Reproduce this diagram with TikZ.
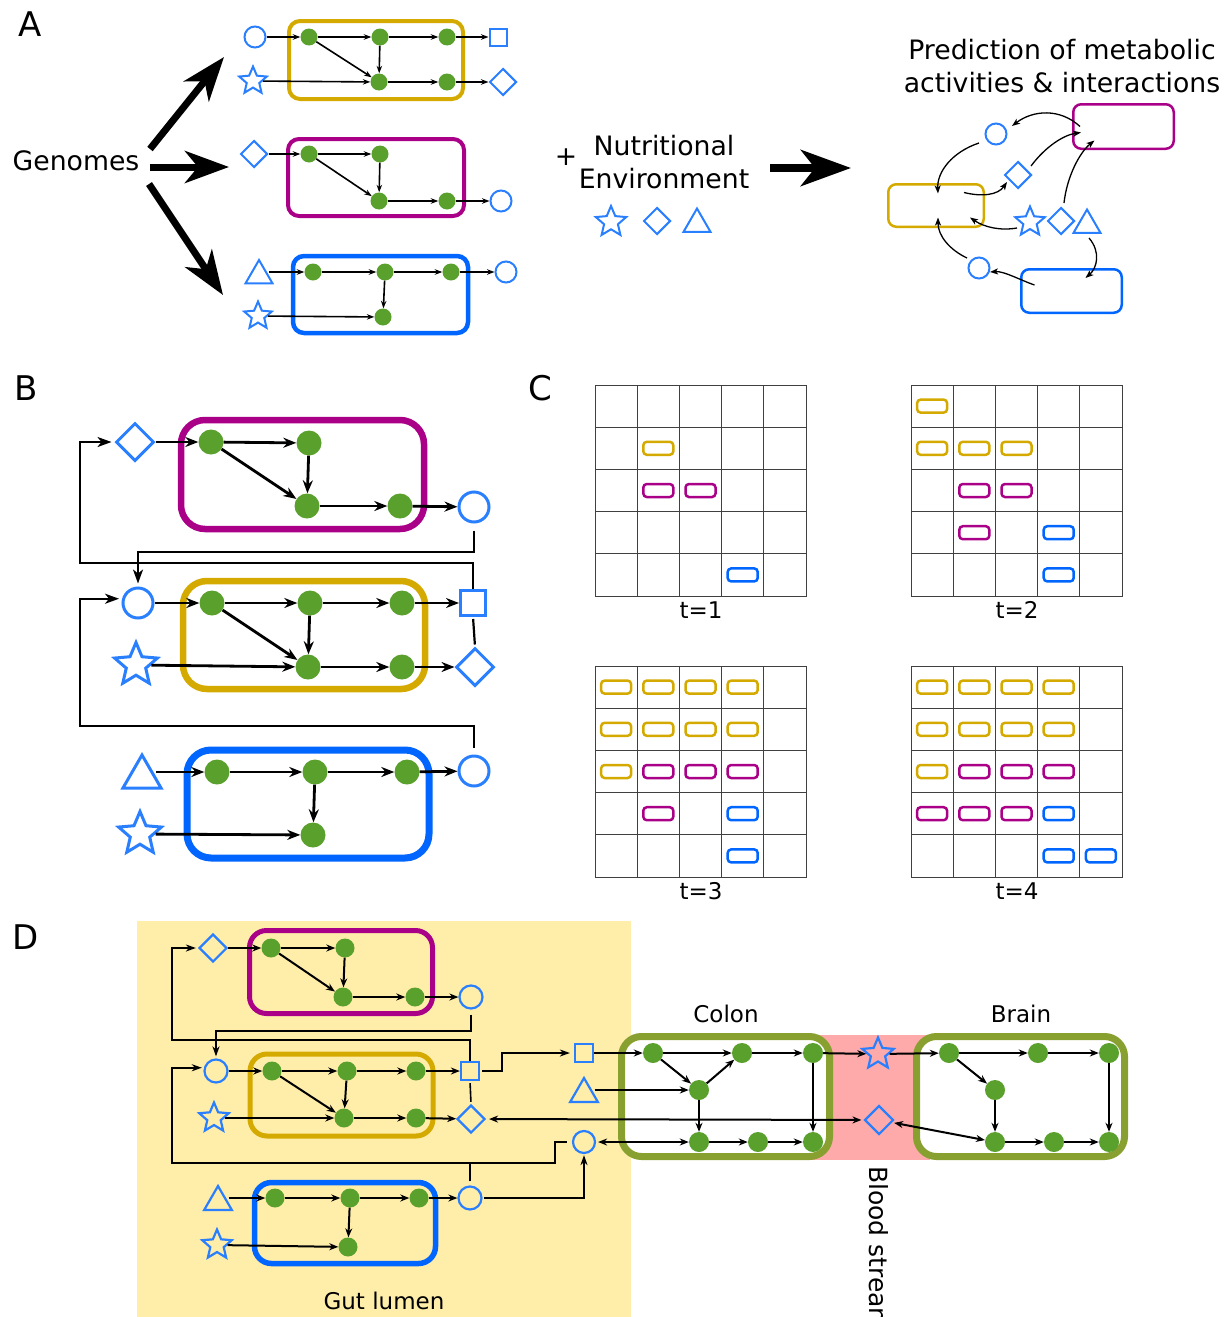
\documentclass[tikz,border=0pt]{standalone}
\usepackage{fontspec}
\setmainfont{DejaVu Sans}
\usetikzlibrary{arrows.meta,shapes.geometric}
\definecolor{gr}{RGB}{90,160,44}
\definecolor{shp}{RGB}{42,127,255}
\definecolor{mag}{RGB}{170,0,136}
\definecolor{yel}{RGB}{212,170,0}
\definecolor{blu}{RGB}{0,102,255}
\definecolor{oli}{RGB}{136,160,48}
\definecolor{pinkbg}{RGB}{255,170,170}
\definecolor{yelbg}{RGB}{255,238,170}
\def\shlw{2pt}
\newcommand\cellbox[5]{\draw[#5,cellb] ({#1+(#4+0.5)*42.2-15},{#2+(#3+0.5)*42.2-6.5}) rectangle ++(30,13);}
\begin{document}
\begin{tikzpicture}[x=1pt,y=-1pt,
  gn/.style={circle,fill=gr,inner sep=0pt,minimum size=#1},
  shc/.style={circle,draw=shp,line width=\shlw,inner sep=0pt,minimum size=#1},
  shs/.style={rectangle,draw=shp,line width=\shlw,inner sep=0pt,minimum size=#1},
  shd/.style={diamond,draw=shp,line width=\shlw,inner sep=0pt,minimum size=#1},
  sht/.style={regular polygon,regular polygon sides=3,draw=shp,line width=\shlw,inner sep=0pt,minimum size=#1},
  shst/.style={star,star points=5,star point ratio=2.2,draw=shp,line width=\shlw,inner sep=0pt,minimum size=#1},
  arA/.style={line width=1.6pt,-{Stealth[length=7.5pt,width=5.5pt]}},
  arB/.style={line width=2.8pt,-{Stealth[length=13pt,width=10pt]}},
  arD/.style={line width=2pt,-{Stealth[length=9pt,width=7pt]}},
  arDD/.style={line width=2pt,{Stealth[length=9pt,width=7pt]}-{Stealth[length=9pt,width=7pt]}},
  fbB/.style={line width=2.2pt},
  fbBa/.style={fbB,-{Stealth[length=14pt,width=10pt,inset=4pt]}},
  fbD/.style={line width=1.6pt},
  fbDa/.style={fbD,-{Stealth[length=10pt,width=7pt,inset=3pt]}},
  curv/.style={line width=1.3pt,-{Stealth[length=8pt,width=6pt,inset=2pt]}},
  big/.style={line width=7pt,-{Stealth[length=44pt,width=32pt,inset=13pt]}},
  txt/.style={inner sep=0pt,font=\fontsize{26.7}{33}\selectfont},
  stxt/.style={inner sep=0pt,font=\fontsize{23}{28}\selectfont},
  btxt/.style={inner sep=0pt,font=\fontsize{25}{30}\selectfont},
  ptxt/.style={inner sep=0pt,font=\fontsize{34}{40}\selectfont},
  gridl/.style={line width=1pt,draw=black!75},
  cellb/.style={line width=2.5pt,rounded corners=3.5pt},
  sbox/.style={line width=2.5pt,rounded corners=8pt,inner sep=0pt},
]
\useasboundingbox (0,0) rectangle (1231,1317);

% ================= Panel A =================
\node[ptxt] (labA) at (30,24) {A};
\node[txt] (genomes) at (76,161) {Genomes};
\coordinate (gu0) at (150,149); \coordinate (gu1) at (224,57);
\coordinate (gm0) at (150,167); \coordinate (gm1) at (229,167);
\coordinate (gd0) at (149,184); \coordinate (gd1) at (223,295);
\draw[big] (gu0) -- (gu1);
\draw[big] (gm0) -- (gm1);
\draw[big] (gd0) -- (gd1);

\def\shlw{2pt}
% yellow genome
\draw[yel,line width=4pt,rounded corners=11pt] (289,21) rectangle (463,99);
\node[gn=17pt] (ay1) at (309,37) {};
\node[gn=17pt] (ay2) at (380,37) {};
\node[gn=17pt] (ay3) at (447,37) {};
\node[gn=17pt] (ay4) at (379,82) {};
\node[gn=17pt] (ay5) at (447,82) {};
\node[shc=21pt] (ayi1) at (255,37) {};
\node[shst=29pt] (ayi2) at (253,81) {};
\node[shs=17pt] (ayo1) at (498,37) {};
\node[shd=27pt] (ayo2) at (503,82) {};
\draw[arA] (ayi1) -- (ay1);
\draw[arA] (ay1) -- (ay2);
\draw[arA] (ay2) -- (ay3);
\draw[arA] (ay3) -- (ayo1);
\draw[arA] (ay1) -- (ay4);
\draw[arA] (ay2) -- (ay4);
\draw[arA] (ayi2) -- (ay4);
\draw[arA] (ay4) -- (ay5);
\draw[arA] (ay5) -- (ayo2);
% magenta genome
\draw[mag,line width=4pt,rounded corners=11pt] (288,139) rectangle (464,216);
\node[gn=17pt] (am1) at (309,154) {};
\node[gn=17pt] (am2) at (380,154) {};
\node[gn=17pt] (am3) at (379,201) {};
\node[gn=17pt] (am4) at (447,201) {};
\node[shd=27pt] (ami) at (254,154) {};
\node[shc=21pt] (amo) at (501,201) {};
\draw[arA] (ami) -- (am1);
\draw[arA] (am1) -- (am2);
\draw[arA] (am1) -- (am3);
\draw[arA] (am2) -- (am3);
\draw[arA] (am3) -- (am4);
\draw[arA] (am4) -- (amo);
% blue genome
\draw[blu,line width=4.5pt,rounded corners=11pt] (293,256) rectangle (468,333);
\node[gn=17pt] (ab1) at (313,272) {};
\node[gn=17pt] (ab2) at (385,272) {};
\node[gn=17pt] (ab3) at (451,272) {};
\node[gn=17pt] (ab4) at (383,317) {};
\node[sht=31pt] (abi1) at (259,275.5) {};
\node[shst=29pt] (abi2) at (258,316) {};
\node[shc=21pt] (abo) at (506,272) {};
\draw[arA] (abi1.east |- ab1) -- (ab1);
\draw[arA] (ab1) -- (ab2);
\draw[arA] (ab2) -- (ab3);
\draw[arA] (ab3) -- (abo);
\draw[arA] (ab2) -- (ab4);
\draw[arA] (abi2) -- (ab4);

% nutritional environment
\node[txt] (plus) at (566,157) {+};
\node[txt,align=center] (nutri) at (664,162.5) {Nutritional\\Environment};
\node[shst=32pt] (est) at (611,222) {};
\node[shd=27pt] (edi) at (657,221) {};
\node[sht=31pt] (etr) at (697,224) {};
\coordinate (bg0) at (770,168); \coordinate (bg1) at (851,168);
\draw[line width=8pt,-{Stealth[length=50pt,width=36pt,inset=14pt]}] (bg0) -- (bg1);

% prediction
\node[txt,align=center] (pred) at (1062,66) {Prediction of metabolic\\activities \& interactions};
\node[sbox,draw=mag,minimum width=100.5pt,minimum height=44.5pt] (rm) at (1123.5,126.5) {};
\node[sbox,draw=yel,minimum width=95.5pt,minimum height=42.5pt] (ry) at (936,205.5) {};
\node[sbox,draw=blu,minimum width=100.5pt,minimum height=43.5pt] (rb) at (1071.5,291) {};
\node[shc=21pt] (rc1) at (996,134) {};
\node[shd=27pt] (rd1) at (1018,175) {};
\node[shst=31pt] (rst) at (1030,222) {};
\node[shd=27pt] (rd2) at (1061,221) {};
\node[sht=31pt] (rtr) at (1087,225) {};
\node[shc=21pt] (rc2) at (979,268) {};
\draw[curv] ([shift={(8,0)}]rm.west) .. controls (1060,108) and (1033,110) .. ([shift={(16,-8)}]rc1.center);
\draw[curv] ([shift={(-17,9)}]rc1.center) .. controls (952,152) and (937,172) .. ([shift={(2,-12)}]ry.center);
\draw[curv] ([shift={(28,-13)}]ry.center) .. controls (982,197) and (998,195) .. ([shift={(-11,7)}]rd1.center);
\draw[curv] ([shift={(13,-9)}]rd1.center) .. controls (1046,146) and (1064,135) .. ([shift={(9,6)}]rm.west);
\draw[curv] ([shift={(3,-18)}]rd2.center) .. controls (1067,176) and (1080,152) .. ([shift={(-29,14)}]rm.center);
\draw[curv] ([shift={(-13,6)}]rst.center) .. controls (1000,231) and (984,227) .. ([shift={(34,12)}]ry.center);
\draw[curv] ([shift={(-12,-10)}]rc2.center) .. controls (950,250) and (938,236) .. ([shift={(2,12)}]ry.center);
\draw[curv] ([shift={(-37,-6)}]rb.center) .. controls (1020,280) and (1004,271) .. ([shift={(11,4)}]rc2.center);
\draw[curv] ([shift={(2,13)}]rtr.center) .. controls (1101,252) and (1097,268) .. ([shift={(14,-13)}]rb.center);

% ================= Panel B =================
\node[ptxt] (labB) at (26,388) {B};
\def\shlw{3pt}
\draw[mag,line width=6.5pt,rounded corners=24pt] (181,420) rectangle (424,529);
\node[gn=25pt] (bm1) at (211,442) {};
\node[gn=25pt] (bm2) at (309,443) {};
\node[gn=25pt] (bm3) at (307,506) {};
\node[gn=25pt] (bm4) at (400,506) {};
\node[shd=38pt] (bmi) at (135,442) {};
\node[shc=30pt] (bmo) at (474,507) {};
\draw[arB] (bmi) -- (bm1);
\draw[arB] (bm1) -- (bm2);
\draw[arB] (bm1) -- (bm3);
\draw[arB] (bm2) -- (bm3);
\draw[arB] (bm3) -- (bm4);
\draw[arB] (bm4) -- (bmo);

\draw[yel,line width=6.5pt,rounded corners=24pt] (183,581) rectangle (425,689);
\node[gn=25pt] (by1) at (212,603) {};
\node[gn=25pt] (by2) at (310,603) {};
\node[gn=25pt] (by3) at (402,603) {};
\node[gn=25pt] (by4) at (308,667) {};
\node[gn=25pt] (by5) at (402,667) {};
\node[shc=30pt] (byi1) at (138,603) {};
\node[shst=45pt] (byi2) at (136,665) {};
\node[shs=25pt] (byo1) at (473,603) {};
\node[shd=38pt] (byo2) at (475,667) {};
\draw[arB] (byi1) -- (by1);
\draw[arB] (by1) -- (by2);
\draw[arB] (by2) -- (by3);
\draw[arB] (by3) -- (byo1);
\draw[arB] (by1) -- (by4);
\draw[arB] (by2) -- (by4);
\draw[arB] (byi2) -- (by4);
\draw[arB] (by4) -- (by5);
\draw[arB] (by5) -- (byo2);

\draw[blu,line width=7pt,rounded corners=24pt] (187,750) rectangle (429,858);
\node[gn=25pt] (bb1) at (217,772) {};
\node[gn=25pt] (bb2) at (315,772) {};
\node[gn=25pt] (bb3) at (407,772) {};
\node[gn=25pt] (bb4) at (313,835) {};
\node[sht=44pt] (bbi1) at (142,777) {};
\node[shst=45pt] (bbi2) at (140,834) {};
\node[shc=30pt] (bbo) at (474,771) {};
\draw[arB] (bbi1.east |- bb1) -- (bb1);
\draw[arB] (bb1) -- (bb2);
\draw[arB] (bb2) -- (bb3);
\draw[arB] (bb3) -- (bbo);
\draw[arB] (bb2) -- (bb4);
\draw[arB] (bbi2) -- (bb4);

\draw[fbBa,shorten <=7pt,shorten >=3pt] (bmo.south) |- (138,552) -- (byi1.north);
\draw[fbB,shorten <=2pt,shorten >=2pt] (byo2.north) -- (byo1.south);
\draw[fbBa,shorten >=3pt] (byo1.north) |- (80,563) |- (bmi.west);
\draw[fbBa,shorten <=7pt,shorten >=3pt] (bbo.north) |- (80,726) |- (byi1.165);

% ================= Panel C =================
\node[ptxt] (labC) at (540,388) {C};
\foreach \gx/\gy/\lab/\nm in {595/385/1/ta,911/385/2/tb,595/666/3/tc,911/666/4/td}{
  \draw[gridl] (\gx,\gy) rectangle ++(211,211);
  \foreach \k in {1,...,4}{
    \draw[gridl] ({\gx+\k*42.2},\gy) -- ++(0,211);
    \draw[gridl] (\gx,{\gy+\k*42.2}) -- ++(211,0);
  }
  \node[stxt] (\nm) at (\gx+106,\gy+225) {t=\lab};
}
% t=1
\cellbox{595}{385}{1}{1}{yel}
\foreach \r/\c in {2/1,2/2}{\cellbox{595}{385}{\r}{\c}{mag}}
\cellbox{595}{385}{4}{3}{blu}
% t=2
\foreach \r/\c in {0/0,1/0,1/1,1/2}{\cellbox{911}{385}{\r}{\c}{yel}}
\foreach \r/\c in {2/1,2/2,3/1}{\cellbox{911}{385}{\r}{\c}{mag}}
\foreach \r/\c in {3/3,4/3}{\cellbox{911}{385}{\r}{\c}{blu}}
% t=3
\foreach \r/\c in {0/0,0/1,0/2,0/3,1/0,1/1,1/2,1/3,2/0}{\cellbox{595}{666}{\r}{\c}{yel}}
\foreach \r/\c in {2/1,2/2,2/3,3/1}{\cellbox{595}{666}{\r}{\c}{mag}}
\foreach \r/\c in {3/3,4/3}{\cellbox{595}{666}{\r}{\c}{blu}}
% t=4
\foreach \r/\c in {0/0,0/1,0/2,0/3,1/0,1/1,1/2,1/3,2/0}{\cellbox{911}{666}{\r}{\c}{yel}}
\foreach \r/\c in {2/1,2/2,2/3,3/0,3/1,3/2}{\cellbox{911}{666}{\r}{\c}{mag}}
\foreach \r/\c in {3/3,4/3,4/4}{\cellbox{911}{666}{\r}{\c}{blu}}

% ================= Panel D =================
\fill[yelbg] (137,921) rectangle (631,1330);
\fill[pinkbg] (812,1035) rectangle (930,1160);
\node[ptxt] (labD) at (26,937) {D};
\node[stxt] (gut) at (384,1301) {Gut lumen};
\node[stxt] (colonlab) at (726,1014) {Colon};
\node[stxt] (brainlab) at (1021,1014) {Brain};
\node[btxt,rotate=-90,anchor=west] (blood) at (879,1166) {Blood stream};
\node[draw=oli,fill=white,line width=7pt,rounded corners=20pt,minimum width=208pt,minimum height=120pt,inner sep=0pt] (colon) at (725.5,1096.5) {};
\node[draw=oli,fill=white,line width=7pt,rounded corners=20pt,minimum width=208pt,minimum height=120pt,inner sep=0pt] (brain) at (1020.5,1096.5) {};

\def\shlw{2.2pt}
% gut magenta
\draw[mag,line width=5pt,rounded corners=17pt] (249.5,930.5) rectangle (432.5,1013.5);
\node[gn=19pt] (dm1) at (271,948) {};
\node[gn=19pt] (dm2) at (345,948) {};
\node[gn=19pt] (dm3) at (343,997) {};
\node[gn=19pt] (dm4) at (415,997) {};
\node[shd=28pt] (dmi) at (213,948) {};
\node[shc=23pt] (dmo) at (471,997) {};
\draw[arD] (dmi) -- (dm1);
\draw[arD] (dm1) -- (dm2);
\draw[arD] (dm1) -- (dm3);
\draw[arD] (dm2) -- (dm3);
\draw[arD] (dm3) -- (dm4);
\draw[arD] (dm4) -- (dmo);
% gut yellow
\draw[yel,line width=5pt,rounded corners=17pt] (250,1054) rectangle (433,1136);
\node[gn=19pt] (dy1) at (272,1071) {};
\node[gn=19pt] (dy2) at (347,1071) {};
\node[gn=19pt] (dy3) at (416,1071) {};
\node[gn=19pt] (dy4) at (344,1118) {};
\node[gn=19pt] (dy5) at (416,1118) {};
\node[shc=23pt] (dyi1) at (216,1071) {};
\node[shst=31pt] (dyi2) at (214,1118) {};
\node[shs=18pt] (dyo1) at (470,1071) {};
\node[shd=28pt] (dyo2) at (471,1119) {};
\draw[arD] (dyi1) -- (dy1);
\draw[arD] (dy1) -- (dy2);
\draw[arD] (dy2) -- (dy3);
\draw[arD] (dy3) -- (dyo1);
\draw[arD] (dy1) -- (dy4);
\draw[arD] (dy2) -- (dy4);
\draw[arD] (dyi2) -- (dy4);
\draw[arD] (dy4) -- (dy5);
\draw[arD] (dy5) -- (dyo2);
% gut blue
\draw[blu,line width=5.5pt,rounded corners=17pt] (254.5,1182.5) rectangle (435.5,1263.5);
\node[gn=19pt] (db1) at (275,1198) {};
\node[gn=19pt] (db2) at (350,1198) {};
\node[gn=19pt] (db3) at (419,1198) {};
\node[gn=19pt] (db4) at (348,1247) {};
\node[sht=32pt] (dbi1) at (218,1202) {};
\node[shst=31pt] (dbi2) at (217,1245) {};
\node[shc=23pt] (dbo) at (470,1198) {};
\draw[arD] (dbi1.east |- db1) -- (db1);
\draw[arD] (db1) -- (db2);
\draw[arD] (db2) -- (db3);
\draw[arD] (db3) -- (dbo);
\draw[arD] (db2) -- (db4);
\draw[arD] (dbi2) -- (db4);

% colon
\node[gn=20pt] (cn1) at (653,1053) {};
\node[gn=20pt] (cn2) at (742,1053) {};
\node[gn=20pt] (cn3) at (813,1053) {};
\node[gn=20pt] (cn4) at (699,1090) {};
\node[gn=20pt] (cn5) at (699,1142) {};
\node[gn=20pt] (cn6) at (758,1142) {};
\node[gn=20pt] (cn7) at (813,1142) {};
\node[shs=18pt] (csq) at (584,1053) {};
\node[sht=32pt] (ctri) at (584,1094) {};
\node[shc=22pt] (ccirc) at (584,1142) {};
\node[shst=33pt] (bstar) at (878,1054) {};
\node[shd=29pt] (bdia) at (879,1120) {};
% brain
\node[gn=20pt] (rn1) at (949,1053) {};
\node[gn=20pt] (rn2) at (1038,1053) {};
\node[gn=20pt] (rn3) at (1109,1053) {};
\node[gn=20pt] (rn4) at (995,1090) {};
\node[gn=20pt] (rn5) at (995,1142) {};
\node[gn=20pt] (rn6) at (1054,1142) {};
\node[gn=20pt] (rn7) at (1109,1142) {};

\draw[arD] (csq) -- (cn1);
\draw[arD] (cn1) -- (cn2);
\draw[arD] (cn2) -- (cn3);
\draw[arD] (cn1) -- (cn4);
\draw[arD] (cn4) -- (cn2);
\draw[arD] (ctri.east |- cn4) -- (cn4);
\draw[arD] (cn4) -- (cn5);
\draw[arD] (cn3) -- (cn7);
\draw[arD] (cn5) -- (cn6);
\draw[arD] (cn6) -- (cn7);
\draw[arDD,shorten <=2pt] (ccirc) -- (cn5);
\draw[arD] (cn3) -- (bstar);
\draw[arD] (bstar) -- (rn1);
\draw[arD] (rn1) -- (rn2);
\draw[arD] (rn2) -- (rn3);
\draw[arD] (rn1) -- (rn4);
\draw[arD] (rn4) -- (rn5);
\draw[arD] (rn3) -- (rn7);
\draw[arD] (rn5) -- (rn6);
\draw[arD] (rn6) -- (rn7);
\draw[arDD,shorten <=2pt] (bdia) -- (rn5);
\draw[arDD,shorten <=3pt,shorten >=2pt] (dyo2) -- (bdia);

% gut feedback
\draw[fbDa,shorten <=5pt,shorten >=2pt] (dmo.south) |- (216,1031) -- (dyi1.north);
\draw[fbD,shorten <=2pt,shorten >=2pt] (dyo2.north) -- (dyo1.south);
\draw[fbDa,shorten >=2pt] (dyo1.north) |- (172,1040) |- (dmi.west);
\draw[fbDa,shorten <=5pt,shorten >=2pt] (ccirc.west) -- (555,1142) |- (172,1163) |- (dyi1.165);
\draw[fbD,shorten <=4pt] (dbo.north) -- (dbo.north |- 0,1163);
\draw[fbDa,shorten <=1pt,shorten >=1pt] (dbo.east) -| (ccirc.south);
\draw[fbDa,shorten <=2pt,shorten >=4pt] (dyo1.east) -- (502,1071) |- (csq.west);
\end{tikzpicture}
\end{document}
